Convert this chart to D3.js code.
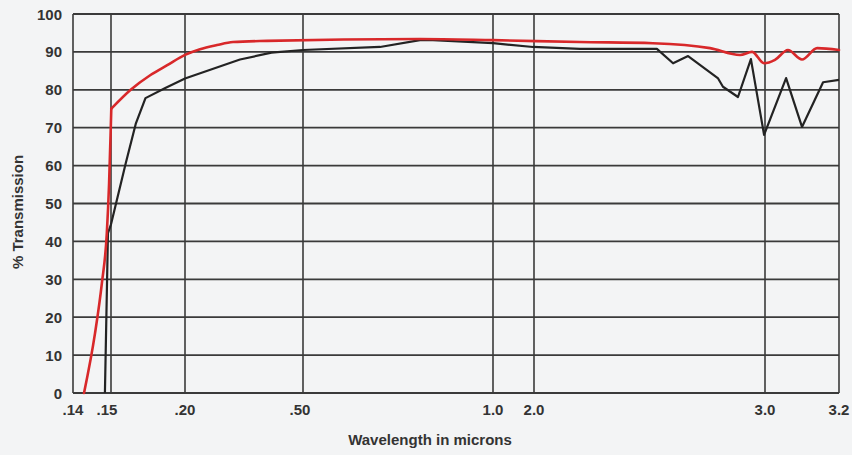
<!DOCTYPE html>
<html><head><meta charset="utf-8">
<script src="https://cdn.jsdelivr.net/npm/d3@7"></script>
<style>html,body{margin:0;padding:0;background:#f3f4f5;}svg{display:block;}</style>
</head><body>
<svg id="c" width="852" height="455"></svg>
<script>
const xTicks = [0.14, 0.15, 0.20, 0.50, 1.0, 2.0, 3.0, 3.2];
const xTickLabels = [".14", ".15", ".20", ".50", "1.0", "2.0", "3.0", "3.2"];
const yTicks = [0, 10, 20, 30, 40, 50, 60, 70, 80, 90, 100];

// red curve: steep cut-on edge, then smooth plateau
const redWave = [0.1429, 0.1458, 0.1476, 0.1489, 0.1495, 0.1499, 0.1502, 0.1633, 0.1767, 0.188, 0.200, 0.2381, 0.2814, 0.322, 0.4085, 0.8079, 1.0, 2.199, 2.515, 2.762, 2.892, 2.944, 2.996, 3.027, 3.062, 3.100, 3.141, 3.2];
const redTrans = [0, 15.8, 29, 42.2, 55.4, 68.6, 75, 80, 83.9, 86.5, 89.2, 90.7, 91.8, 92.6, 92.9, 93.4, 93.1, 92.6, 92.3, 91, 89.2, 90, 87, 87.9, 90.5, 88, 91, 90.5];
const redEdgeCount = 7;

const blackWave = [0.1484, 0.1492, 0.150, 0.1503, 0.160, 0.1667, 0.1733, 0.1867, 0.200, 0.3398, 0.42, 0.500, 0.7026, 0.8079, 0.8421, 1.0, 1.976, 2.199, 2.532, 2.602, 2.667, 2.797, 2.818, 2.883, 2.939, 2.996, 3.057, 3.100, 3.157, 3.2];
const blackTrans = [0, 42.2, 44.5, 45, 60.7, 71, 77.8, 80.5, 83, 88, 89.8, 90.5, 91.3, 93.1, 93.1, 92.3, 91.3, 90.8, 90.8, 87, 88.9, 83, 80.8, 78.1, 88.1, 68.1, 83.1, 70.2, 82, 82.6];

const svg = d3.select("#c");
const L = 73, R = 839, T = 14, B = 393;
const x = d3.scaleLinear().domain(xTicks).range([73, 111, 185, 303, 493, 534, 765, 839]);
const y = d3.scaleLinear().domain([0, 100]).range([B, T]);

const font = "'Liberation Sans', Arial, Helvetica, sans-serif";
const gridColor = "#3a3a3a";

svg.append("g").selectAll("line").data(yTicks).join("line")
  .attr("x1", L).attr("x2", R).attr("y1", d => y(d)).attr("y2", d => y(d))
  .attr("stroke", gridColor).attr("stroke-width", 1.8);
svg.append("g").selectAll("line").data(xTicks).join("line")
  .attr("x1", d => x(d)).attr("x2", d => x(d)).attr("y1", T).attr("y2", B)
  .attr("stroke", gridColor).attr("stroke-width", 1.6);

svg.append("g").selectAll("text").data(yTicks).join("text")
  .attr("x", 62).attr("y", d => y(d) + 5.5)
  .attr("text-anchor", "end").attr("font-family", font).attr("font-weight", "bold")
  .attr("font-size", 15).attr("fill", "#333").text(d => d);

svg.append("g").selectAll("text").data(xTicks).join("text")
  .attr("x", (d, i) => x(d) + (i === 1 ? -4 : i === 3 ? -3 : 0)).attr("y", 415)
  .attr("text-anchor", "middle").attr("font-family", font).attr("font-weight", "bold")
  .attr("font-size", 15).attr("fill", "#333").text((d, i) => xTickLabels[i]);

svg.append("text").attr("x", 430).attr("y", 445).attr("text-anchor", "middle")
  .attr("font-family", font).attr("font-weight", "bold").attr("font-size", 15)
  .attr("fill", "#333").text("Wavelength in microns");
svg.append("text").attr("transform", "translate(23,212) rotate(-90)").attr("text-anchor", "middle")
  .attr("font-family", font).attr("font-weight", "bold").attr("font-size", 15)
  .attr("fill", "#333").text("% Transmission");

const blackData = blackWave.map((w, i) => [w, blackTrans[i]]);
const redData = redWave.map((w, i) => [w, redTrans[i]]);

svg.append("path").datum(blackData)
  .attr("fill", "none").attr("stroke", "#232323").attr("stroke-width", 2.2)
  .attr("stroke-linejoin", "round")
  .attr("d", d3.line().x(d => x(d[0])).y(d => y(d[1])).curve(d3.curveLinear));

const redEdge = redData.slice(0, redEdgeCount);
const redRest = redData.slice(redEdgeCount - 1);
svg.append("path").datum(redEdge)
  .attr("fill", "none").attr("stroke", "#d8282a").attr("stroke-width", 2.6)
  .attr("stroke-linejoin", "round").attr("stroke-linecap", "round")
  .attr("d", d3.line().x(d => x(d[0])).y(d => y(d[1])).curve(d3.curveMonotoneX));
svg.append("path").datum(redRest)
  .attr("fill", "none").attr("stroke", "#d8282a").attr("stroke-width", 2.6)
  .attr("stroke-linejoin", "round").attr("stroke-linecap", "round")
  .attr("d", d3.line().x(d => x(d[0])).y(d => y(d[1])).curve(d3.curveMonotoneX));
</script>
</body></html>
